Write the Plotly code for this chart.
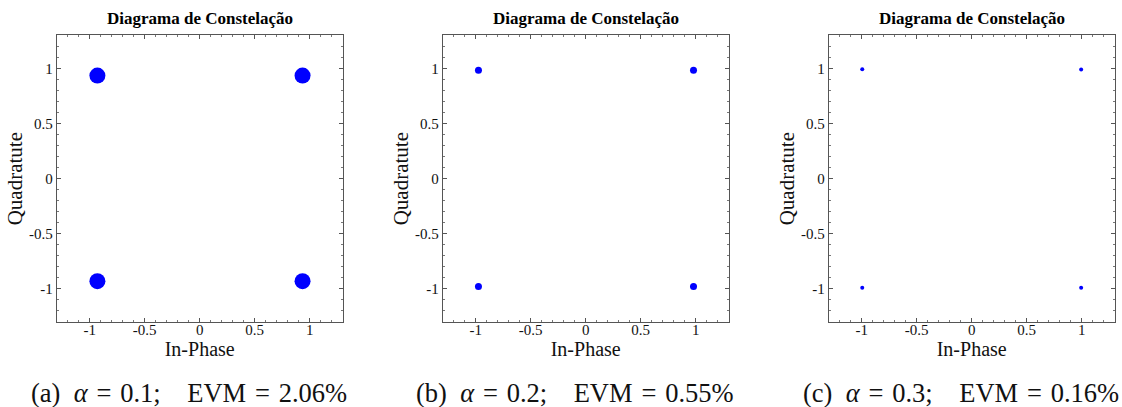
import plotly.graph_objects as go

# Constellation cluster centres (in-phase, quadrature)
i_a = [-0.93, 0.935, -0.93, 0.935]
q_a = [0.935, 0.935, -0.93, -0.93]
i_b = [-0.975, 0.98, -0.975, 0.98]
q_b = [0.982, 0.982, -0.978, -0.978]
i_c = [-0.995, 0.995, -0.995, 0.995]
q_c = [0.992, 0.99, -0.99, -0.99]

panel_titles = ["Diagrama de Constelação"] * 3
labels = ["(a)", "(b)", "(c)"]
alphas = ["0.1", "0.2", "0.3"]
evms = ["2.06%", "0.55%", "0.16%"]
tick_vals = [-1, -0.5, 0, 0.5, 1]
tick_text = ["-1", "-0.5", "0", "0.5", "1"]
axis_range = [-1.3, 1.3]

W, H = 1122, 407
x_px = [(56.7, 342.7), (442.7, 728.7), (828.7, 1114.7)]
y_px = (35.3, 322.0)
marker_sizes = [16, 7, 4]

fig = go.Figure()
series = [(i_a, q_a), (i_b, q_b), (i_c, q_c)]
FONT = "Liberation Serif"
EQ = " \u200a=\u200a "

for k, ((xs, ys), ms) in enumerate(zip(series, marker_sizes)):
    sfx = "" if k == 0 else str(k + 1)
    fig.add_trace(go.Scatter(x=xs, y=ys, mode="markers",
                             marker=dict(color="#0000ff", size=ms, line=dict(width=0)),
                             xaxis="x" + sfx, yaxis="y" + sfx, showlegend=False))
    dom_x = [x_px[k][0] / W, x_px[k][1] / W]
    dom_y = [1 - y_px[1] / H, 1 - y_px[0] / H]
    common = dict(range=axis_range, tickvals=tick_vals, ticktext=tick_text,
                  ticks="inside", ticklen=4, tickwidth=1, tickcolor="#555555",
                  showline=True, linecolor="#555555", linewidth=1, mirror="ticks",
                  showgrid=False, zeroline=False, automargin=False,
                  tickfont=dict(family=FONT, size=15, color="#111111"),
                  minor=dict(dtick=0.1, tick0=0, ticks="inside", ticklen=2,
                             tickcolor="#777777", tickwidth=1, showgrid=False))
    fig.layout["xaxis" + sfx] = dict(domain=dom_x, anchor="y" + sfx,
                                     ticklabelstandoff=-6,
                                     title=dict(text="In-Phase", standoff=2,
                                                font=dict(family=FONT, size=20, color="#111111")),
                                     **common)
    fig.layout["yaxis" + sfx] = dict(domain=dom_y, anchor="x" + sfx,
                                     title=dict(text="Quadratute", standoff=0,
                                                font=dict(family=FONT, size=21, color="#111111")),
                                     **common)
    cx = (x_px[k][0] + x_px[k][1]) / 2 / W
    fig.add_annotation(text="<b>" + panel_titles[k] + "</b>", x=cx, y=1 - 18 / H,
                       xref="paper", yref="paper", showarrow=False,
                       xanchor="center", yanchor="middle",
                       font=dict(family=FONT, size=17, color="#000000"))
    caption = (labels[k] + "\u2002<i>α</i>" + EQ + alphas[k] + ";\u2003EVM" + EQ + evms[k])
    fig.add_annotation(text=caption, x=cx - 11 / W, y=1 - 393 / H,
                       xref="paper", yref="paper", showarrow=False,
                       xanchor="center", yanchor="middle",
                       font=dict(family=FONT, size=26.5, color="#111111"))

fig.update_layout(width=W, height=H, margin=dict(l=0, r=0, t=0, b=0),
                  paper_bgcolor="white", plot_bgcolor="white",
                  font=dict(family=FONT))
fig.write_html("out.html")
